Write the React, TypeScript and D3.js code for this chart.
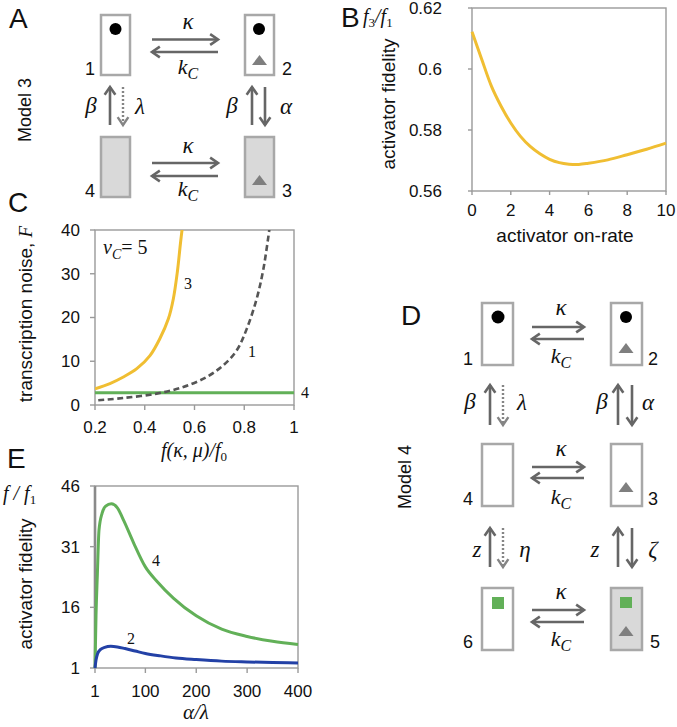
import React from 'react';
import * as d3 from 'd3';

const SANS = 'Liberation Sans, Arial, sans-serif';
const SERIF = 'Liberation Serif, DejaVu Serif, serif';

// ---------- Panel B data ----------
const bRate = [0, 0.5, 1, 1.5, 2, 2.5, 3, 3.5, 4, 4.5, 5, 5.5, 6, 7, 8, 9, 10];
const bFidelity = [0.6122, 0.6032, 0.5944, 0.5878, 0.5823, 0.5779, 0.5746, 0.5722, 0.5704, 0.5693, 0.5688, 0.5687, 0.5691, 0.5702, 0.5719, 0.5737, 0.5757];
const bYTicks = [0.56, 0.58, 0.6, 0.62];
const bYTickLabels = ['0.56', '0.58', '0.6', '0.62'];
const bXTicks = [0, 2, 4, 6, 8, 10];

// ---------- Panel C data ----------
const cX3 = [0.2, 0.26, 0.314, 0.368, 0.421, 0.461, 0.495, 0.515, 0.531, 0.544, 0.552];
const cY3 = [3.7, 4.9, 6.4, 8.3, 11.3, 15.2, 19.7, 24.3, 30.4, 37.2, 41];
const cX1 = [0.213, 0.314, 0.448, 0.555, 0.649, 0.716, 0.77, 0.81, 0.85, 0.877, 0.903];
const cY1 = [1.07, 1.6, 2.6, 4.1, 6.4, 9.1, 12.5, 17.4, 24.3, 31.1, 41];
const cX4 = [0.2, 1];
const cY4 = [2.8, 2.8];
const cYTicks = [0, 10, 20, 30, 40];
const cXTicks = [0.2, 0.4, 0.6, 0.8, 1];
const cXTickLabels = ['0.2', '0.4', '0.6', '0.8', '1'];

// ---------- Panel E data ----------
const eX4 = [1, 3, 5.6, 8.8, 15, 22, 33, 45, 58, 77, 100, 123, 155, 200, 250, 300, 350, 400];
const eY4 = [1, 14, 24, 35, 39.3, 41, 41.6, 40.6, 37.3, 31.9, 26, 22.4, 18.3, 13.9, 10.6, 8.8, 7.6, 6.8];
const eX2 = [1, 3, 6, 12, 20, 32, 45, 60, 80, 100, 130, 160, 200, 250, 300, 350, 400];
const eY2 = [1, 3.0, 4.5, 5.6, 6.1, 6.35, 6.2, 5.8, 5.2, 4.6, 4.0, 3.5, 3.1, 2.7, 2.5, 2.35, 2.25];
const eYTicks = [1, 16, 31, 46];
const eXTicks = [1, 100, 200, 300, 400];

const ARROW = '#666';
const BOXSTROKE = '#a8a8a8';
const BOXFILL = '#d9d9d9';
const TRI = '#7f7f7f';
const GREEN = '#62b058';
const YELLOW = '#f0be32';
const BLUE = '#2341a6';
const FRAME = '#9a9a9a';

function Arrow({ x1, y1, x2, y2, dotted }: any) {
  const ang = Math.atan2(y2 - y1, x2 - x1);
  const L = 9.5, sp = 0.6;
  const p1 = [x2 - L * Math.cos(ang - sp), y2 - L * Math.sin(ang - sp)];
  const p2 = [x2 - L * Math.cos(ang + sp), y2 - L * Math.sin(ang + sp)];
  const col = dotted ? '#858585' : ARROW;
  return (
    <g stroke={col} fill="none" strokeWidth={dotted ? 2.4 : 2.6}>
      <line x1={x1} y1={y1} x2={x2} y2={y2} strokeDasharray={dotted ? '2 2' : undefined} />
      <polyline points={`${p1[0]},${p1[1]} ${x2},${y2} ${p2[0]},${p2[1]}`} />
    </g>
  );
}

function Tri({ cx, cy }: any) {
  const w = 15, h = 10;
  return <path d={`M${cx - w / 2},${cy + h / 2} L${cx + w / 2},${cy + h / 2} L${cx},${cy - h / 2} Z`} fill={TRI} />;
}

function Math1({ x, y, children, anchor = 'middle', size = 23 }: any) {
  return (
    <text x={x} y={y} fontFamily={SERIF} fontStyle="italic" fontSize={size} textAnchor={anchor} fill="#111">
      {children}
    </text>
  );
}

function KC({ x, y }: any) {
  return (
    <text x={x} y={y} fontFamily={SERIF} fontStyle="italic" fontSize={22} textAnchor="middle" fill="#111">
      <tspan>k</tspan>
      <tspan dy={5} fontSize={16}>C</tspan>
    </text>
  );
}

function Num({ x, y, children }: any) {
  return (
    <text x={x} y={y} fontFamily={SANS} fontSize={18} textAnchor="middle" fill="#111">{children}</text>
  );
}

function PanelLetter({ x, y, children }: any) {
  return <text x={x} y={y} fontFamily={SANS} fontSize={28} fill="#111">{children}</text>;
}

function PanelA() {
  const cols = [101, 245];
  const rows = [15, 137];
  const w = 29, h = 60;
  const fills = [['#fff', '#fff'], [BOXFILL, BOXFILL]];
  return (
    <g>
      {rows.map((ry, ri) => cols.map((cx, ci) => (
        <rect key={`${ri}-${ci}`} x={cx} y={ry} width={w} height={h} fill={fills[ri][ci]} stroke={BOXSTROKE} strokeWidth={2.5} />
      )))}
      <circle cx={115.5} cy={29} r={6} fill="#000" />
      <circle cx={259} cy={29} r={6} fill="#000" />
      <Tri cx={259.5} cy={60} />
      <Tri cx={259.5} cy={180} />
      <Num x={90} y={75}>1</Num>
      <Num x={287} y={75}>2</Num>
      <Num x={90} y={197}>4</Num>
      <Num x={287} y={197}>3</Num>
      <Arrow x1={152} y1={39.5} x2={218} y2={39.5} />
      <Arrow x1={218} y1={52} x2={152} y2={52} />
      <Math1 x={188} y={29}>κ</Math1>
      <KC x={188} y={74} />
      <Arrow x1={152} y1={163} x2={218} y2={163} />
      <Arrow x1={218} y1={176} x2={152} y2={176} />
      <Math1 x={188} y={153}>κ</Math1>
      <KC x={188} y={196} />
      <Arrow x1={110} y1={125} x2={110} y2={87} />
      <Arrow x1={123} y1={87} x2={123} y2={125} dotted />
      <Arrow x1={252} y1={125} x2={252} y2={87} />
      <Arrow x1={265} y1={87} x2={265} y2={125} />
      <Math1 x={91} y={113}>β</Math1>
      <Math1 x={140} y={114}>λ</Math1>
      <Math1 x={232} y={113}>β</Math1>
      <Math1 x={286} y={114}>α</Math1>
      <text transform="translate(25,110) rotate(-90)" fontFamily={SANS} fontSize={18} textAnchor="middle" dominantBaseline="central" fill="#111">Model 3</text>
      <PanelLetter x={9} y={28}>A</PanelLetter>
    </g>
  );
}

function PanelD() {
  const cols = [482, 611];
  const rows = [303, 444, 588];
  const w = 31, h = 62;
  const fills = [['#fff', '#fff'], ['#fff', '#fff'], ['#fff', BOXFILL]];
  const hx1 = 532, hx2 = 584;
  const hArrows = [[327, 339], [467, 478], [610, 622]];
  const kappaY = [315, 456, 599];
  const kcY = [363, 504, 646];
  return (
    <g>
      {rows.map((ry, ri) => cols.map((cx, ci) => (
        <rect key={`${ri}-${ci}`} x={cx} y={ry} width={w} height={h} fill={fills[ri][ci]} stroke={BOXSTROKE} strokeWidth={2.5} />
      )))}
      <circle cx={498} cy={317} r={6.5} fill="#000" />
      <circle cx={626} cy={317} r={6} fill="#000" />
      <Tri cx={626} cy={348} />
      <Tri cx={626} cy={487} />
      <Tri cx={626} cy={631} />
      <rect x={492} y={597} width={12} height={12} fill={GREEN} />
      <rect x={620} y={597} width={12} height={11} fill={GREEN} />
      <Num x={468} y={365}>1</Num>
      <Num x={653} y={365}>2</Num>
      <Num x={468} y={505}>4</Num>
      <Num x={653} y={505}>3</Num>
      <Num x={468} y={648}>6</Num>
      <Num x={655} y={648}>5</Num>
      {hArrows.map(([a, b], i) => (
        <g key={i}>
          <Arrow x1={hx1} y1={a} x2={hx2} y2={a} />
          <Arrow x1={hx2} y1={b} x2={hx1} y2={b} />
          <Math1 x={561} y={kappaY[i]}>κ</Math1>
          <KC x={561} y={kcY[i]} />
        </g>
      ))}
      <Arrow x1={490} y1={425} x2={490} y2={385} />
      <Arrow x1={503} y1={385} x2={503} y2={425} dotted />
      <Arrow x1={618} y1={425} x2={618} y2={385} />
      <Arrow x1={632} y1={385} x2={632} y2={425} />
      <Math1 x={470} y={409}>β</Math1>
      <Math1 x={522} y={410}>λ</Math1>
      <Math1 x={602} y={409}>β</Math1>
      <Math1 x={648} y={410}>α</Math1>
      <Arrow x1={490} y1={567} x2={490} y2={528} />
      <Arrow x1={503} y1={528} x2={503} y2={567} dotted />
      <Arrow x1={618} y1={567} x2={618} y2={528} />
      <Arrow x1={632} y1={528} x2={632} y2={567} />
      <Math1 x={477} y={557}>z</Math1>
      <Math1 x={525} y={557}>η</Math1>
      <Math1 x={595} y={557}>z</Math1>
      <Math1 x={653} y={557}>ζ</Math1>
      <text transform="translate(405,477) rotate(-90)" fontFamily={SANS} fontSize={18} textAnchor="middle" dominantBaseline="central" fill="#111">Model 4</text>
      <PanelLetter x={401} y={325}>D</PanelLetter>
    </g>
  );
}

function PanelB() {
  const x = d3.scaleLinear().domain([0, 10]).range([472, 666]);
  const y = d3.scaleLinear().domain([0.56, 0.62]).range([191, 8]);
  const line = d3.line<number>().x((_, i) => x(bRate[i])).y(d => y(d)).curve(d3.curveCatmullRom.alpha(0.5));
  return (
    <g>
      <rect x={472} y={8} width={194} height={183} fill="none" stroke={FRAME} strokeWidth={1.4} />
      {bYTicks.map((t, i) => (
        <g key={t}>
          <line x1={468} x2={472} y1={y(t)} y2={y(t)} stroke={FRAME} strokeWidth={1.4} />
          <text x={442} y={y(t)} dy="0.35em" textAnchor="end" fontFamily={SANS} fontSize={17} fill="#111">{bYTickLabels[i]}</text>
        </g>
      ))}
      {bXTicks.map(t => (
        <g key={t}>
          <line x1={x(t)} x2={x(t)} y1={191} y2={195} stroke={FRAME} strokeWidth={1.4} />
          <text x={x(t)} y={216} textAnchor="middle" fontFamily={SANS} fontSize={17} fill="#111">{t}</text>
        </g>
      ))}
      <path d={line(bFidelity) || ''} fill="none" stroke={YELLOW} strokeWidth={3} />
      <text transform="translate(388,104) rotate(-90)" fontFamily={SANS} fontSize={19} textAnchor="middle" dominantBaseline="central" fill="#111">activator fidelity</text>
      <text x={565} y={242} fontFamily={SANS} fontSize={19} textAnchor="middle" fill="#111">activator on-rate</text>
      <text x={363} y={23} fontFamily={SERIF} fontStyle="italic" fontSize={20} fill="#111">
        <tspan>f</tspan><tspan dy={4} fontSize={13} fontStyle="normal">3</tspan>
        <tspan dy={-4}>/f</tspan><tspan dy={4} fontSize={13} fontStyle="normal">1</tspan>
      </text>
      <PanelLetter x={341} y={27}>B</PanelLetter>
    </g>
  );
}

function PanelC() {
  const x = d3.scaleLinear().domain([0.2, 1]).range([95, 294]);
  const y = d3.scaleLinear().domain([0, 40]).range([405, 230]);
  const mk = (xs: number[]) => d3.line<number>().x((_, i) => x(xs[i])).y(d => y(d)).curve(d3.curveCatmullRom.alpha(0.5));
  return (
    <g>
      <defs>
        <clipPath id="clipC"><rect x={95} y={230} width={199} height={175} /></clipPath>
      </defs>
      <rect x={95} y={230} width={199} height={175} fill="none" stroke={FRAME} strokeWidth={1.4} />
      {cYTicks.map(t => (
        <g key={t}>
          <line x1={90} x2={95} y1={y(t)} y2={y(t)} stroke={FRAME} strokeWidth={1.4} />
          <text x={80} y={y(t)} dy="0.35em" textAnchor="end" fontFamily={SANS} fontSize={17} fill="#111">{t}</text>
        </g>
      ))}
      {cXTicks.map((t, i) => (
        <g key={t}>
          <line x1={x(t)} x2={x(t)} y1={405} y2={410} stroke={FRAME} strokeWidth={1.4} />
          <text x={x(t)} y={433} textAnchor="middle" fontFamily={SANS} fontSize={17} fill="#111">{cXTickLabels[i]}</text>
        </g>
      ))}
      <g clipPath="url(#clipC)">
        <path d={mk(cX4)(cY4) || ''} fill="none" stroke={GREEN} strokeWidth={3} />
        <path d={mk(cX1)(cY1) || ''} fill="none" stroke="#555" strokeWidth={2.6} strokeDasharray="6 3.5" />
        <path d={mk(cX3)(cY3) || ''} fill="none" stroke={YELLOW} strokeWidth={3} />
      </g>
      <text x={188} y={289} fontFamily={SERIF} fontSize={16} textAnchor="middle" fill="#111">3</text>
      <text x={252} y={357} fontFamily={SERIF} fontSize={16} textAnchor="middle" fill="#111">1</text>
      <text x={305} y={398} fontFamily={SERIF} fontSize={16} textAnchor="middle" fill="#111">4</text>
      <text x={103} y={254} fontFamily={SERIF} fontSize={20} fill="#111">
        <tspan fontStyle="italic">v</tspan>
        <tspan dy={5} fontSize={14} fontStyle="italic">C</tspan>
        <tspan dy={-5}>= 5</tspan>
      </text>
      <text transform="translate(25,314) rotate(-90)" fontFamily={SANS} fontSize={19} textAnchor="middle" dominantBaseline="central" fill="#111">
        transcription noise, <tspan fontFamily={SERIF} fontStyle="italic">F</tspan>
      </text>
      <text x={194} y={457} fontFamily={SERIF} fontStyle="italic" fontSize={20} textAnchor="middle" fill="#111">
        <tspan>f(κ, μ)/f</tspan><tspan dy={4} fontSize={13} fontStyle="normal">0</tspan>
      </text>
      <PanelLetter x={8} y={212}>C</PanelLetter>
    </g>
  );
}

function PanelE() {
  const x = d3.scaleLinear().domain([1, 400]).range([95, 298]);
  const y = d3.scaleLinear().domain([1, 46]).range([668, 486]);
  const mk = (xs: number[]) => d3.line<number>().x((_, i) => x(xs[i])).y(d => y(d)).curve(d3.curveMonotoneX);
  return (
    <g>
      <rect x={95} y={486} width={203} height={182} fill="none" stroke={FRAME} strokeWidth={1.4} />
      <line x1={95} x2={95} y1={486} y2={668} stroke="#8a8a8a" strokeWidth={2.6} />
      {eYTicks.map(t => (
        <g key={t}>
          <line x1={90} x2={95} y1={y(t)} y2={y(t)} stroke={FRAME} strokeWidth={1.4} />
          <text x={80} y={y(t)} dy="0.35em" textAnchor="end" fontFamily={SANS} fontSize={17} fill="#111">{t}</text>
        </g>
      ))}
      {eXTicks.map(t => (
        <g key={t}>
          <line x1={x(t)} x2={x(t)} y1={668} y2={673} stroke={FRAME} strokeWidth={1.4} />
          <text x={x(t)} y={697} textAnchor="middle" fontFamily={SANS} fontSize={17} fill="#111">{t}</text>
        </g>
      ))}
      <path d={mk(eX4)(eY4) || ''} fill="none" stroke={GREEN} strokeWidth={3} />
      <path d={mk(eX2)(eY2) || ''} fill="none" stroke={BLUE} strokeWidth={3} />
      <text x={156} y={566} fontFamily={SERIF} fontSize={16} textAnchor="middle" fill="#111">4</text>
      <text x={131} y={644} fontFamily={SERIF} fontSize={16} textAnchor="middle" fill="#111">2</text>
      <text transform="translate(25,584) rotate(-90)" fontFamily={SANS} fontSize={19} textAnchor="middle" dominantBaseline="central" fill="#111">activator fidelity</text>
      <text x={3} y={500} fontFamily={SERIF} fontStyle="italic" fontSize={20} fill="#111">
        <tspan>f / f</tspan><tspan dy={4} fontSize={13} fontStyle="normal">1</tspan>
      </text>
      <text x={196} y={719} fontFamily={SERIF} fontStyle="italic" fontSize={21} textAnchor="middle" fill="#111">α/λ</text>
      <PanelLetter x={7} y={468}>E</PanelLetter>
    </g>
  );
}

export default function App() {
  return (
    <svg width={677} height={727} viewBox="0 0 677 727" style={{ position: 'absolute', left: 0, top: 0, background: '#fff' }}>
      <rect x={0} y={0} width={677} height={727} fill="#fff" />
      <PanelA />
      <PanelB />
      <PanelC />
      <PanelD />
      <PanelE />
    </svg>
  );
}
